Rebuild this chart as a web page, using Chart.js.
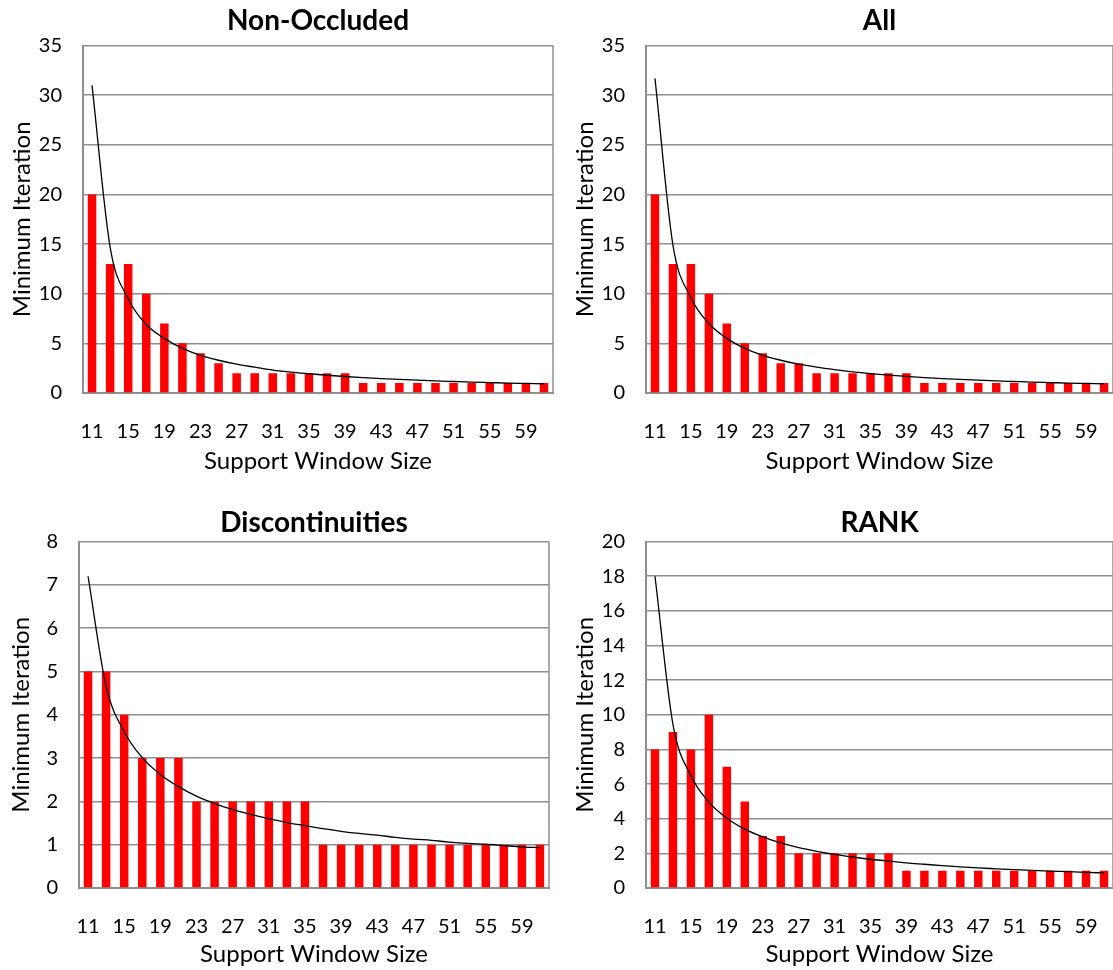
<!DOCTYPE html>
<html>
<head>
<meta charset="utf-8">
<title>Minimum Iteration vs Support Window Size</title>
<script src="https://cdn.jsdelivr.net/npm/chart.js@4.4.1/dist/chart.umd.min.js"></script>
<style>
  html, body { margin: 0; padding: 0; background: #fff; }
  body { width: 1113px; height: 970px; position: relative; overflow: hidden; }
  .panel { position: absolute; }
</style>
</head>
<body>
<div class="panel" style="left:0px; top:0px; width:556px; height:476px;"><canvas id="chartNonOccluded"></canvas></div>
<div class="panel" style="left:560px; top:0px; width:553px; height:476px;"><canvas id="chartAll"></canvas></div>
<div class="panel" style="left:0px; top:480px; width:552px; height:490px;"><canvas id="chartDisc"></canvas></div>
<div class="panel" style="left:560px; top:480px; width:553px; height:490px;"><canvas id="chartRank"></canvas></div>

<script>
// x categories (support window size)
const windowSizes = [11, 13, 15, 17, 19, 21, 23, 25, 27, 29, 31, 33, 35, 37, 39, 41, 43, 45, 47, 49, 51, 53, 55, 57, 59, 61];

// minimum iteration per window size
const nonOccludedIter = [20, 13, 13, 10, 7, 5, 4, 3, 2, 2, 2, 2, 2, 2, 2, 1, 1, 1, 1, 1, 1, 1, 1, 1, 1, 1];
const allIter         = [20, 13, 13, 10, 7, 5, 4, 3, 3, 2, 2, 2, 2, 2, 2, 1, 1, 1, 1, 1, 1, 1, 1, 1, 1, 1];
const discIter        = [5, 5, 4, 3, 3, 3, 2, 2, 2, 2, 2, 2, 2, 1, 1, 1, 1, 1, 1, 1, 1, 1, 1, 1, 1, 1];
const rankIter        = [8, 9, 8, 10, 7, 5, 3, 3, 2, 2, 2, 2, 2, 2, 1, 1, 1, 1, 1, 1, 1, 1, 1, 1, 1, 1];

// trend line at each window size
const nonOccludedTrend = [31.0, 14.7, 9.5, 6.9, 5.5, 4.5, 3.8, 3.3, 2.9, 2.6, 2.3, 2.1, 1.94, 1.79, 1.66, 1.55, 1.45, 1.37, 1.29, 1.22, 1.16, 1.10, 1.05, 1.00, 0.96, 0.92];
const allTrend         = [31.7, 14.9, 9.6, 7.0, 5.5, 4.5, 3.8, 3.3, 2.9, 2.6, 2.35, 2.13, 1.95, 1.8, 1.67, 1.55, 1.45, 1.37, 1.29, 1.22, 1.16, 1.10, 1.05, 1.00, 0.96, 0.92];
const discTrend        = [7.2, 4.66, 3.61, 3.01, 2.62, 2.34, 2.12, 1.95, 1.81, 1.70, 1.60, 1.51, 1.44, 1.37, 1.31, 1.26, 1.22, 1.17, 1.13, 1.10, 1.06, 1.03, 1.01, 0.98, 0.95, 0.93];
const rankTrend        = [18.0, 9.45, 6.48, 4.96, 4.03, 3.40, 2.95, 2.60, 2.33, 2.12, 1.94, 1.79, 1.66, 1.55, 1.45, 1.37, 1.29, 1.22, 1.16, 1.11, 1.06, 1.02, 0.98, 0.94, 0.90, 0.87];

const FONT = 'Lato, "Open Sans", sans-serif';
const GRID_COLOR = '#8f8f8f';

// right edge of the plot frame (top edge comes from the max gridline)
const frameRight = {
    id: 'frameRight',
    afterDraw(chart) {
        const { ctx, chartArea } = chart;
        ctx.save();
        ctx.strokeStyle = GRID_COLOR;
        ctx.lineWidth = 1.5;
        ctx.beginPath();
        ctx.moveTo(chartArea.right, chartArea.top);
        ctx.lineTo(chartArea.right, chartArea.bottom);
        ctx.stroke();
        ctx.restore();
    }
};

/**
 * One panel: red bars + black trend line
 */
function createPanel(canvasId, cfg) {
    const canvas = document.getElementById(canvasId);

    return new Chart(canvas, {
        type: 'bar',
        data: {
            labels: windowSizes.map(String),
            datasets: [{
                type: 'line',
                data: cfg.trend,
                borderColor: '#000',
                borderWidth: 1.3,
                pointRadius: 0,
                cubicInterpolationMode: 'monotone',
                fill: false,
                order: 0
            }, {
                type: 'bar',
                data: cfg.values,
                backgroundColor: '#ff0000',
                borderWidth: 0,
                barPercentage: 0.47,
                categoryPercentage: 1.0,
                order: 1
            }]
        },
        options: {
            responsive: true,
            maintainAspectRatio: false,
            animation: false,
            layout: { padding: { left: 0, right: cfg.padRight, top: 0, bottom: 0 } },
            plugins: {
                legend: { display: false },
                tooltip: { enabled: false },
                title: {
                    display: true,
                    fullSize: false,   // centre over the plot, not the whole panel
                    text: cfg.title,
                    color: '#000',
                    font: { family: FONT, size: 28, weight: 'bold' },
                    padding: { top: cfg.titleTop, bottom: cfg.titleBottom }
                }
            },
            scales: {
                x: {
                    grid: { display: false, drawTicks: false },
                    border: { display: true, color: GRID_COLOR, width: 2 },
                    ticks: {
                        autoSkip: false,
                        maxRotation: 0,
                        padding: 27,
                        color: '#000',
                        font: { family: FONT, size: 20 },
                        callback: (value, index) => index % 2 === 0 ? windowSizes[index] : ''
                    },
                    title: {
                        display: true,
                        text: 'Support Window Size',
                        color: '#000',
                        font: { family: FONT, size: 24 },
                        padding: { top: 0, bottom: cfg.xTitleBottom }
                    },
                    afterFit: (scale) => {
                        scale.height = cfg.xHeight;
                        // no extra side padding, the plot runs to the panel edge
                        scale.paddingLeft = 0;
                        scale.paddingRight = 0;
                    }
                },
                y: {
                    min: 0,
                    max: cfg.max,
                    ticks: {
                        stepSize: cfg.step,
                        padding: 21,
                        color: '#000',
                        font: { family: FONT, size: 20 }
                    },
                    grid: { color: GRID_COLOR, lineWidth: 1.5, drawTicks: false },
                    border: { display: true, color: GRID_COLOR, width: 2 },
                    title: {
                        display: true,
                        text: 'Minimum Iteration',
                        color: '#000',
                        font: { family: FONT, size: 24 },
                        padding: { top: cfg.yTitlePad, bottom: 0 }
                    },
                    afterFit: (scale) => { scale.width = cfg.yWidth; }
                }
            }
        },
        plugins: [frameRight]
    });
}

createPanel('chartNonOccluded', {
    title: 'Non-Occluded', values: nonOccludedIter, trend: nonOccludedTrend,
    max: 35, step: 5, yWidth: 83, padRight: 3, yTitlePad: 8,
    titleTop: 4, titleBottom: 8, xHeight: 83, xTitleBottom: 0
});

createPanel('chartAll', {
    title: 'All', values: allIter, trend: allTrend,
    max: 35, step: 5, yWidth: 86, padRight: 0, yTitlePad: 11,
    titleTop: 4, titleBottom: 8, xHeight: 83, xTitleBottom: 0
});

createPanel('chartDisc', {
    title: 'Discontinuities', values: discIter, trend: discTrend,
    max: 8, step: 1, yWidth: 79, padRight: 3, yTitlePad: 7,
    titleTop: 26, titleBottom: 2, xHeight: 82, xTitleBottom: 1
});

createPanel('chartRank', {
    title: 'RANK', values: rankIter, trend: rankTrend,
    max: 20, step: 2, yWidth: 86, padRight: 0, yTitlePad: 11,
    titleTop: 26, titleBottom: 2, xHeight: 82, xTitleBottom: 1
});
</script>
</body>
</html>
